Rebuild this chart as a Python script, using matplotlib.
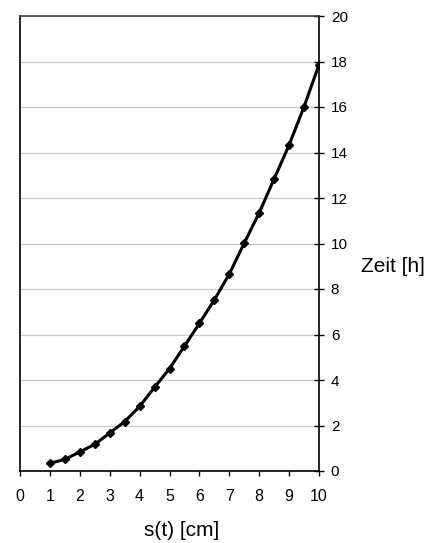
import matplotlib
matplotlib.use("Agg")
import matplotlib.pyplot as plt

plt.rcParams['font.family'] = ['Liberation Sans', 'DejaVu Sans']

# distance s(t) in cm and elapsed time in hours
s_cm = [1, 1.5, 2, 2.5, 3, 3.5, 4, 4.5, 5, 5.5, 6, 6.5, 7, 7.5, 8, 8.5, 9, 9.5, 10]
zeit_h = [0.34, 0.51, 0.84, 1.17, 1.67, 2.17, 2.84, 3.68, 4.50, 5.49, 6.49,
          7.52, 8.66, 10.02, 11.35, 12.84, 14.33, 16.01, 17.86]
x_ticks = list(range(0, 11))
y_ticks = list(range(0, 21, 2))

fig = plt.figure(figsize=(4.38, 5.43), dpi=100)
ax = fig.add_axes([20 / 438, 72 / 543, 299 / 438, 455 / 543])

ax.plot(s_cm, zeit_h, color='black', linewidth=2.2, marker='D',
        markersize=4.5, markerfacecolor='black', markeredgecolor='black', zorder=3)

ax.set_xlim(0, 10)
ax.set_ylim(0, 20)
ax.set_xticks(x_ticks)
ax.set_yticks(y_ticks)

ax.yaxis.tick_right()
ax.grid(axis='y', color='#c8c8c8', linewidth=0.9)
ax.set_axisbelow(True)

ax.tick_params(axis='x', direction='out', length=3.5, width=1, labelsize=11.5,
               pad=9.5, colors='black')
ax.tick_params(axis='y', direction='inout', length=7, width=1, labelsize=11,
               pad=5, colors='black')

for side in ['left', 'bottom', 'right']:
    ax.spines[side].set_color('black')
    ax.spines[side].set_linewidth(1.2)
ax.spines['top'].set_color('#404040')
ax.spines['top'].set_linewidth(1.2)

fig.text(182 / 438, 1 - 531 / 543, 's(t) [cm]', ha='center', va='center', fontsize=15)
fig.text(361 / 438, 1 - 266 / 543, 'Zeit [h]', ha='left', va='center', fontsize=15)

fig.savefig('out.png', dpi=100)
